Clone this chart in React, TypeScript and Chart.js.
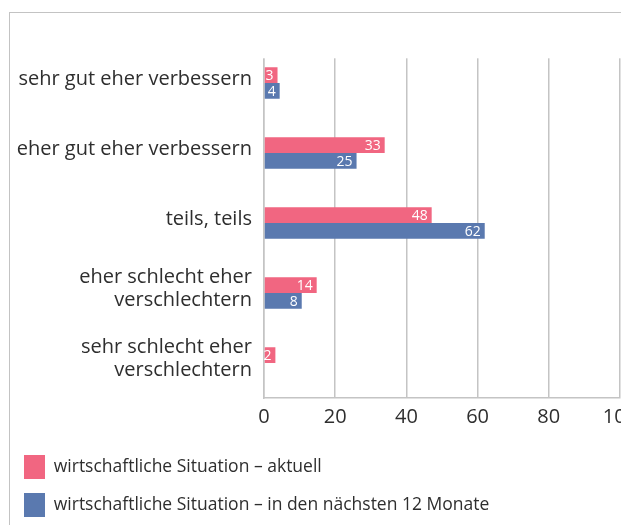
import React, { useEffect, useRef } from "react";
import { Chart, registerables } from "chart.js";

Chart.register(...registerables);

const categories: (string | string[])[] = [
  "sehr gut eher verbessern",
  "eher gut eher verbessern",
  "teils, teils",
  ["eher schlecht eher", "verschlechtern"],
  ["sehr schlecht eher", "verschlechtern"],
];

const seriesNames = [
  "wirtschaftliche Situation – aktuell",
  "wirtschaftliche Situation – in den nächsten 12 Monate",
];

// bar lengths as drawn in the picture
const aktuellValues: (number | null)[] = [3.8, 33.9, 47.1, 14.8, 3.2];
const naechsteValues: (number | null)[] = [4.4, 26, 62, 10.6, null];

// numbers printed inside the bars
const aktuellLabels: string[] = ["3", "33", "48", "14", "2"];
const naechsteLabels: string[] = ["4", "25", "62", "8", ""];

const xTicks = [0, 20, 40, 60, 80, 100];

const PINK = "#F16681";
const BLUE = "#5A79AF";
const GRID = "#c4c4c4";
const TEXT = "#2e2e2e";
const FONT = "'Open Sans', 'Noto Sans', sans-serif";

const barLabelPlugin = {
  id: "barLabels",
  beforeDatasetsDraw(chart: any) {
    // grid lines start a little below the top of the plot area
    const { ctx, chartArea } = chart;
    ctx.save();
    ctx.fillStyle = "#ffffff";
    ctx.fillRect(chartArea.left - 2, chartArea.top - 2, chartArea.right - chartArea.left + 4, 12.3);
    ctx.restore();
  },
  afterDatasetsDraw(chart: any) {
    const { ctx } = chart;
    const labelSets = [aktuellLabels, naechsteLabels];
    ctx.save();
    ctx.fillStyle = "#ffffff";
    ctx.font = `14px ${FONT}`;
    ctx.textAlign = "right";
    ctx.textBaseline = "middle";
    chart.data.datasets.forEach((ds: any, di: number) => {
      const meta = chart.getDatasetMeta(di);
      meta.data.forEach((el: any, i: number) => {
        const txt = labelSets[di][i];
        if (!txt || ds.data[i] == null) return;
        ctx.fillText(txt, el.x - 4, el.y + 1);
      });
    });
    ctx.restore();
  },
};

export default function App() {
  const ref = useRef<HTMLCanvasElement | null>(null);

  useEffect(() => {
    if (!ref.current) return;
    const chart = new Chart(ref.current, {
      type: "bar",
      data: {
        labels: categories,
        datasets: [
          {
            label: seriesNames[0],
            data: aktuellValues,
            backgroundColor: PINK,
            barPercentage: 1,
            categoryPercentage: 0.45,
          },
          {
            label: seriesNames[1],
            data: naechsteValues,
            backgroundColor: BLUE,
            barPercentage: 1,
            categoryPercentage: 0.45,
          },
        ],
      },
      options: {
        indexAxis: "y",
        animation: false,
        responsive: false,
        maintainAspectRatio: false,
        layout: { padding: { top: 34, right: 50, left: 0, bottom: 0 } },
        scales: {
          x: {
            min: 0,
            max: 100,
            afterBuildTicks: (s: any) => {
              s.ticks = xTicks.map((v) => ({ value: v }));
            },
            afterFit: (s: any) => {
              s.height = 43;
            },
            grid: { color: GRID, lineWidth: 1.5, drawTicks: false },
            border: { display: true, color: GRID, width: 1.5 },
            ticks: {
              color: TEXT,
              font: { family: FONT, size: 20 },
              padding: 7,
              maxRotation: 0,
            },
          },
          y: {
            afterFit: (s: any) => {
              s.width = 254;
            },
            grid: { display: false, drawTicks: false },
            border: { display: true, color: GRID, width: 1.5 },
            ticks: {
              color: TEXT,
              font: { family: FONT, size: 20, lineHeight: 1.15 },
              padding: 12,
              labelOffset: -4,
            },
          },
        },
        plugins: {
          legend: {
            position: "bottom",
            align: "start",
            labels: {
              boxWidth: 21,
              boxHeight: 24,
              padding: 14,
              color: TEXT,
              font: { family: FONT, size: 17.5 },
            },
          },
          tooltip: { enabled: false },
        },
      },
      plugins: [barLabelPlugin],
    });
    return () => chart.destroy();
  }, []);

  return (
    <div
      style={{
        position: "fixed",
        left: 0,
        top: 0,
        width: 621,
        height: 525,
        overflow: "hidden",
        background: "#fff",
      }}
    >
      <div
        style={{
          position: "absolute",
          left: 9,
          top: 12,
          width: 700,
          height: 600,
          borderTop: "1px solid #c3c3c3",
          borderLeft: "1px solid #c3c3c3",
        }}
      >
        <canvas ref={ref} width={660} height={514} style={{ display: "block" }} />
      </div>
    </div>
  );
}
